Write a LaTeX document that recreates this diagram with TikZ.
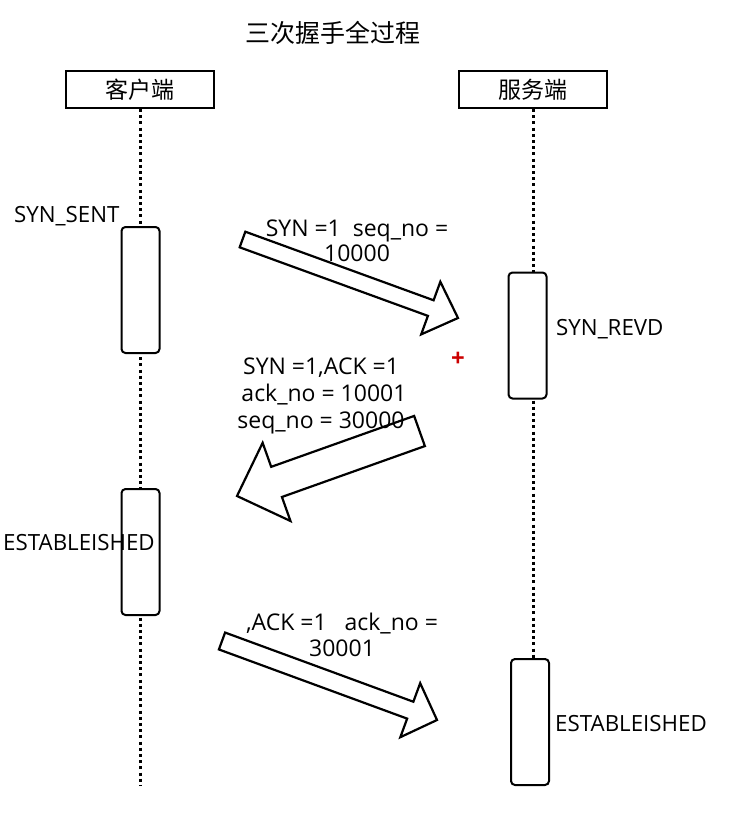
\documentclass[tikz,border=0pt]{standalone}
\usepackage{fontspec}
\setmainfont{Open Sans}
\newfontfamily\cjk{Noto Sans CJK SC}
\usetikzlibrary{calc}

\tikzset{
  headbox/.style={draw,line width=2.2pt,minimum width=148pt,minimum height=37pt,
    inner sep=0pt,font=\cjk\fontsize{23}{26}\selectfont},
  actbox/.style={draw,line width=2pt,rounded corners=4pt,fill=white,
    minimum width=38pt,minimum height=126pt},
  lifeline/.style={line width=3pt,dash pattern=on 3pt off 3.2pt},
  blockarrow/.style={draw,line width=2.2pt,line join=miter},
  msg/.style={font=\fontsize{23}{27}\selectfont,align=center,inner sep=0pt},
  state/.style={font=\fontsize{22.3}{26}\selectfont,inner sep=0pt},
}

% tail, tip, half shaft, half head, head length
\newcommand\fatarrow[5]{%
  \coordinate (hb) at ($(#2)!#5!(#1)$);
  \draw[blockarrow] ($(#1)!#3!90:(#2)$) -- ($(hb)!#3!-90:(#1)$)
    -- ($(hb)!#4!-90:(#1)$) -- (#2) -- ($(hb)!#4!90:(#1)$)
    -- ($(hb)!#3!90:(#1)$) -- ($(#1)!#3!-90:(#2)$) -- cycle ;}

\begin{document}
\begin{tikzpicture}[x=1pt,y=-1pt]
        \useasboundingbox (0,0) rectangle (734,818) ;
        \node[font=\cjk\fontsize{25}{28}\selectfont] (title) at (333,33) {三次握手全过程} ;
        \node[headbox] (client) at (140,89.5) {客户端} ;
        \node[headbox] (server) at (533,89.5) {服务端} ;
        \coordinate (clientend) at (140,785) ;
        \coordinate (serverend) at (533,785) ;
        \draw[lifeline] (client.south) -- (clientend) ;
        \draw[lifeline] (server.south) -- (serverend) ;
        % activation boxes
        \node[actbox] (csent) at (140.5,290) {} ;
        \node[actbox] (cest) at (140.5,552) {} ;
        \node[actbox] (srevd) at (527.5,335.5) {} ;
        \node[actbox] (sest) at (530,722) {} ;
        % states
        \node[state,anchor=west] (synsent) at (14,216) {SYN\_SENT} ;
        \node[state,anchor=west] (cesttext) at (3,543) {ESTABLEISHED} ;
        \node[state,anchor=west] (synrevd) at (556,329) {SYN\_REVD} ;
        \node[state,anchor=west] (sesttext) at (555,724) {ESTABLEISHED} ;
        % big arrows
        \coordinate (syntail) at (242.5,239.5) ;
        \coordinate (syntip) at (458,318) ;
        \fatarrow{syntail}{syntip}{8.3pt}{28pt}{29pt}
        \coordinate (acktail) at (419.5,431) ;
        \coordinate (acktip) at (237,496) ;
        \fatarrow{acktail}{acktip}{16pt}{41.5pt}{42pt}
        \coordinate (esttail) at (222,641) ;
        \coordinate (esttip) at (437,720) ;
        \fatarrow{esttail}{esttip}{9pt}{28.8pt}{28.5pt}
        % messages
        \node[msg,font=\fontsize{23}{25}\selectfont] (msgsyn) at (357,241) {SYN =1\ \ seq\_no =\\10000} ;
        \node[msg] (msgack) at (321,396) {SYN =1,ACK =1\\\ ack\_no = 10001\\seq\_no = 30000} ;
        \node[msg,font=\fontsize{23}{26}\selectfont] (msgest) at (342,635) {,ACK =1\ \ \ ack\_no =\\30001} ;
        \node[text=red!80!black,font=\bfseries\fontsize{24}{24}\selectfont] (cursor) at (458,359) {+} ;
\end{tikzpicture}
\end{document}
